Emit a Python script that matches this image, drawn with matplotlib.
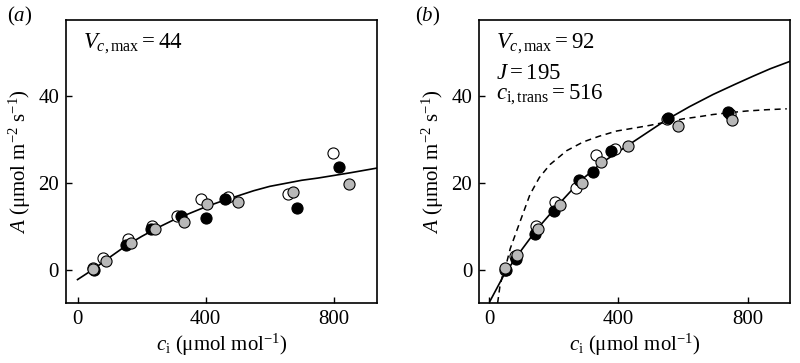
import matplotlib
matplotlib.use("Agg")
import matplotlib.pyplot as plt

plt.rcParams['font.family'] = ['Liberation Serif', 'DejaVu Serif']
plt.rcParams['mathtext.fontset'] = 'custom'
plt.rcParams['mathtext.rm'] = 'Liberation Serif'
plt.rcParams['mathtext.it'] = 'Liberation Serif:italic'
plt.rcParams['mathtext.bf'] = 'Liberation Serif:bold'

# ---- Panel (a) data ----
a_open_x = [48, 80, 156, 234, 309, 385, 470, 657, 799]
a_open_y = [0.5, 2.8, 7.3, 10.3, 12.4, 16.5, 16.9, 17.6, 27.0]
a_black_x = [52, 152, 228, 323, 400, 461, 684, 817]
a_black_y = [0.1, 5.9, 9.4, 12.4, 12.0, 16.5, 14.3, 23.7]
a_gray_x = [49, 88, 166, 243, 331, 403, 500, 672, 848]
a_gray_y = [0.3, 2.2, 6.4, 9.5, 11.1, 15.2, 15.6, 18.0, 19.8]
a_curve_x = [0, 50, 100, 150, 200, 250, 300, 350, 400, 450, 500, 550, 600,
             650, 700, 750, 800, 850, 935]
a_curve_y = [-2.1, 0.3, 3.0, 5.6, 7.8, 9.8, 11.6, 13.1, 14.6, 15.9, 17.1,
             18.3, 19.3, 20.0, 20.7, 21.2, 21.8, 22.4, 23.5]

# ---- Panel (b) data ----
b_open_x = [48, 80, 145, 205, 270, 332, 389, 549, 745]
b_open_y = [0.2, 3.2, 10.1, 15.7, 19.0, 26.5, 27.8, 34.8, 36.0]
b_black_x = [52, 83, 141, 201, 277, 322, 376, 552, 740]
b_black_y = [0.0, 2.6, 8.3, 13.7, 20.8, 22.6, 27.5, 35.0, 36.4]
b_gray_x = [49.5, 85, 152, 219, 286, 347, 430, 585, 750]
b_gray_y = [0.46, 3.5, 9.6, 15.1, 20.0, 24.9, 28.5, 33.2, 34.5]
b_solid_x = [2, 20, 43, 85, 147, 209, 281, 350, 425, 490, 549, 620, 693,
             760, 817, 870, 931]
b_solid_y = [-7.1, -4.6, -1.4, 3.2, 9.4, 14.7, 20.5, 24.8, 28.5, 31.7,
             34.6, 37.6, 40.4, 42.7, 44.6, 46.3, 48.0]
b_dash_x = [26, 33, 40, 48.6, 65, 90, 126, 155, 188, 240, 291, 340, 394,
            450, 497, 550, 601, 650, 693, 755, 797, 860, 921]
b_dash_y = [-7.5, -3.7, -1.5, 0.2, 5.0, 10.1, 17.4, 21.3, 24.3, 27.5, 29.5,
            30.8, 32.0, 32.7, 33.3, 34.1, 34.8, 35.3, 35.8, 36.3, 36.6,
            36.9, 37.1]

xticks = [0, 400, 800]
yticks = [0, 20, 40]

fig = plt.figure(figsize=(8.0, 3.63), dpi=100)
ax_a = fig.add_axes([0.0825, 0.165, 0.3888, 0.780])
ax_b = fig.add_axes([0.599, 0.165, 0.3885, 0.780])

gray = '#b8b8b8'
ms = 64

def style(ax, xlim):
    ax.set_xlim(*xlim)
    ax.set_ylim(-7.5, 57.5)
    ax.set_xticks(xticks)
    ax.set_yticks(yticks)
    ax.tick_params(direction='in', length=4, width=1.0, labelsize=15, pad=5)
    for s in ax.spines.values():
        s.set_linewidth(1.2)
    ax.set_xlabel(r'$c_{\mathrm{i}}$ (μmol mol$^{-1}$)', fontsize=15, labelpad=2)
    ax.set_ylabel(r'$A$ (μmol m$^{-2}$ s$^{-1}$)', fontsize=15, labelpad=4)

def points(ax, ox, oy, bx, by, gx, gy):
    ax.scatter(ox, oy, s=ms, facecolor='white', edgecolor='black', linewidth=0.8, zorder=3)
    ax.scatter(bx, by, s=ms, facecolor='black', edgecolor='black', linewidth=0.8, zorder=4)
    ax.scatter(gx, gy, s=ms, facecolor=gray, edgecolor='black', linewidth=0.8, zorder=5)

# Panel a
ax_a.plot(a_curve_x, a_curve_y, color='black', lw=1.2, zorder=2)
points(ax_a, a_open_x, a_open_y, a_black_x, a_black_y, a_gray_x, a_gray_y)
style(ax_a, (-36, 935))
ax_a.text(0.055, 0.96, r'$V_{c,\mathrm{max}} = 44$', transform=ax_a.transAxes,
          fontsize=16.5, va='top', ha='left')
fig.text(0.009, 0.955, r'($a$)', fontsize=15, va='center', ha='left')

# Panel b
ax_b.plot(b_dash_x, b_dash_y, color='black', lw=1.1, ls=(0, (4, 3)), zorder=2)
ax_b.plot(b_solid_x, b_solid_y, color='black', lw=1.2, zorder=2)
points(ax_b, b_open_x, b_open_y, b_black_x, b_black_y, b_gray_x, b_gray_y)
style(ax_b, (-31, 931))
ax_b.text(0.055, 0.96, r'$V_{c,\mathrm{max}} = 92$', transform=ax_b.transAxes,
          fontsize=16.5, va='top', ha='left')
ax_b.text(0.055, 0.848, r'$J = 195$', transform=ax_b.transAxes,
          fontsize=16.5, va='top', ha='left')
ax_b.text(0.055, 0.778, r'$c_{\mathrm{i,trans}} = 516$', transform=ax_b.transAxes,
          fontsize=16.5, va='top', ha='left')
fig.text(0.519, 0.955, r'($b$)', fontsize=15, va='center', ha='left')

fig.savefig('out.png', dpi=100)
